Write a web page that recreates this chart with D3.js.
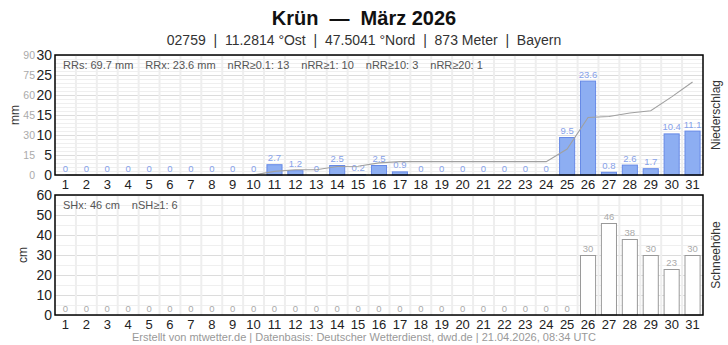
<!DOCTYPE html>
<html>
<head>
<meta charset="utf-8">
<script src="https://cdn.jsdelivr.net/npm/d3@7"></script>
<style>
body { margin: 0; background: #fff; }
svg { font-family: "Liberation Sans", Arial, sans-serif; display: block; }
</style>
</head>
<body>
<svg id="chart" width="728" height="345"></svg>
<script>
'use strict';

// daily values, März 2026
var days = d3.range(1, 32);
var precip = [0, 0, 0, 0, 0, 0, 0, 0, 0, 0, 2.7, 1.2, 0, 2.5, 0.2, 2.5, 0.9, 0, 0, 0, 0, 0, 0, 0, 9.5, 23.6, 0.8, 2.6, 1.7, 10.4, 11.1];
var snow = [0, 0, 0, 0, 0, 0, 0, 0, 0, 0, 0, 0, 0, 0, 0, 0, 0, 0, 0, 0, 0, 0, 0, 0, 0, 30, 46, 38, 30, 23, 30];
var precipTicks = [0, 5, 10, 15, 20, 25, 30];
var sumTicks = [0, 15, 30, 45, 60, 75, 90];
var snowTicks = [0, 10, 20, 30, 40, 50, 60];
var precipStats = ["RRs: 69.7 mm", "RRx: 23.6 mm", "nRR\u22650.1: 13", "nRR\u22651: 10", "nRR\u226510: 3", "nRR\u226520: 1"];
var snowStats = ["SHx: 46 cm", "nSH\u22651: 6"];

var svg = d3.select("#chart");
var left = 55, right = 703;

var x = d3.scaleBand().domain(days).range([left, right]).paddingInner(0.23).paddingOuter(0.115);
var xEdge = d3.scaleBand().domain(days).range([left, right]);

// cumulative sum for line
var cum = [];
var s = 0;
for (var i = 0; i < precip.length; i++) {
	s += precip[i];
	cum.push(Math.round(s * 10) / 10);
}

function drawPanel(top, bottom, values, yMax, minorStep, ticks, barFill, barStroke, labelColor, stats) {
	var y = d3.scaleLinear().domain([0, yMax]).range([bottom, top]);
	var g = svg.append("g");

	// minor horizontal grid
	g.selectAll(".minor").data(d3.range(0, yMax, minorStep)).enter().append("line")
		.attr("x1", left).attr("x2", right)
		.attr("y1", function (d) { return y(d) + 0.5; }).attr("y2", function (d) { return y(d) + 0.5; })
		.attr("stroke", "#efefef").attr("stroke-width", 1);
	// major horizontal grid
	g.selectAll(".major").data(ticks).enter().append("line")
		.attr("x1", left).attr("x2", right)
		.attr("y1", function (d) { return y(d) + 0.5; }).attr("y2", function (d) { return y(d) + 0.5; })
		.attr("stroke", "#dcdcdc").attr("stroke-width", 1);
	// vertical grid at day edges
	g.selectAll(".vgrid").data(days.slice(1)).enter().append("line")
		.attr("x1", function (d) { return xEdge(d); }).attr("x2", function (d) { return xEdge(d); })
		.attr("y1", top).attr("y2", bottom)
		.attr("stroke", "#eeeeee").attr("stroke-width", 2);

	// left axis labels
	g.selectAll(".ytick").data(ticks).enter().append("text")
		.attr("x", 52).attr("y", function (d) { return y(d); })
		.attr("dy", "0.35em").attr("text-anchor", "end")
		.attr("font-size", 14).attr("fill", "#222")
		.text(function (d) { return d; });

	// bars
	g.selectAll(".bar").data(values).enter().append("rect")
		.attr("x", function (d, i) { return x(days[i]) + 0.5; })
		.attr("y", function (d) { return y(d) + 0.5; })
		.attr("width", x.bandwidth() - 1)
		.attr("height", function (d) { return Math.max(0, bottom - y(d) - 0.5); })
		.attr("fill", barFill).attr("stroke", barStroke).attr("stroke-width", 1)
		.style("display", function (d) { return d > 0 ? null : "none"; });

	// value labels
	g.selectAll(".val").data(values).enter().append("text")
		.attr("x", function (d, i) { return x(days[i]) + x.bandwidth() / 2; })
		.attr("y", function (d) { return y(d) - 3; })
		.attr("text-anchor", "middle").attr("font-size", 9.5)
		.attr("fill", labelColor)
		.text(function (d) { return d; });

	// stats line
	var sx = 63;
	stats.forEach(function (t) {
		var tx = g.append("text").attr("x", sx).attr("y", top + 14)
			.attr("font-size", 11).attr("fill", "#555").text(t);
		sx += tx.node().getComputedTextLength() + 12;
	});

	// x tick labels
	g.selectAll(".xtick").data(days).enter().append("text")
		.attr("x", function (d) { return xEdge(d) + xEdge.bandwidth() / 2; })
		.attr("y", bottom + 14)
		.attr("text-anchor", "middle").attr("font-size", 13).attr("fill", "#222")
		.text(function (d) { return d; });

	return { g: g, y: y };
}

// Niederschlag
var p = drawPanel(55, 175, precip, 30, 1, precipTicks, "#8daef2", "#6689e6", "#87a2ea", precipStats);

var ySum = d3.scaleLinear().domain([0, 90]).range([175, 55]);
p.g.selectAll(".stick").data(sumTicks).enter().append("text")
	.attr("x", 35).attr("y", function (d) { return ySum(d); })
	.attr("dy", "0.35em").attr("text-anchor", "end")
	.attr("font-size", 10.5).attr("fill", "#aaa")
	.text(function (d) { return d; });

var line = d3.line()
	.x(function (d, i) { return xEdge(days[i]) + xEdge.bandwidth() / 2; })
	.y(function (d) { return ySum(d); });
p.g.append("path").datum(cum).attr("d", line)
	.attr("fill", "none").attr("stroke", "#a0a0a0").attr("stroke-width", 1.1);

// Schneehöhe
var sn = drawPanel(195, 315, snow, 60, 5, snowTicks, "#ffffff", "#999999", "#aaaaaa", snowStats);

// frames
[[55, 175], [195, 315]].forEach(function (r) {
	svg.append("rect").attr("x", left).attr("y", r[0]).attr("width", right - left).attr("height", r[1] - r[0])
		.attr("fill", "none").attr("stroke", "#000").attr("stroke-width", 1.5);
});

// axis titles
function vText(xp, yp, t) {
	svg.append("text").attr("transform", "translate(" + xp + "," + yp + ") rotate(-90)")
		.attr("text-anchor", "middle").attr("font-size", 12).attr("fill", "#333").text(t);
}
vText(19, 115, "mm");
vText(27, 255, "cm");
vText(720, 115, "Niederschlag");
vText(720, 255, "Schneeh\u00f6he");

// titles
svg.append("text").attr("x", 364).attr("y", 25).attr("text-anchor", "middle")
	.attr("font-size", 20).attr("font-weight", "bold").attr("fill", "#111")
	.style("white-space", "pre")
	.text("Kr\u00fcn  \u2014  M\u00e4rz 2026");
svg.append("text").attr("x", 364).attr("y", 45).attr("text-anchor", "middle")
	.attr("font-size", 14).attr("fill", "#333").style("white-space", "pre")
	.text("02759  |  11.2814 \u00b0Ost  |  47.5041 \u00b0Nord  |  873 Meter  |  Bayern");
svg.append("text").attr("x", 364).attr("y", 341).attr("text-anchor", "middle")
	.attr("font-size", 11).attr("fill", "#999")
	.text("Erstellt von mtwetter.de | Datenbasis: Deutscher Wetterdienst, dwd.de | 21.04.2026, 08:34 UTC");
</script>
</body>
</html>
